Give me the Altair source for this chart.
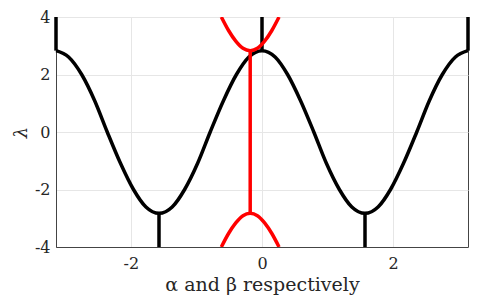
import altair as alt
import pandas as pd

# black curve (alpha, lambda)
alpha = [-3.14, -2.95, -2.75, -2.55, -2.36, -2.16, -1.96, -1.77, -1.57, -1.37, -1.18,
         -0.98, -0.79, -0.59, -0.39, -0.20, 0.00, 0.20, 0.39, 0.59, 0.79, 0.98, 1.18,
         1.37, 1.57, 1.77, 1.96, 2.16, 2.36, 2.55, 2.75, 2.95, 3.14]
lam_black = [2.83, 2.61, 2.00, 1.08, 0.00, -1.08, -2.00, -2.61, -2.83, -2.61, -2.00,
             -1.08, 0.00, 1.08, 2.00, 2.61, 2.83, 2.61, 2.00, 1.08, 0.00, -1.08, -2.00,
             -2.61, -2.83, -2.61, -2.00, -1.08, 0.00, 1.08, 2.00, 2.61, 2.83]

# black vertical stubs
stub_x = [-3.1416, -1.5708, 0.0, 1.5708, 3.1416]
stub_y1 = [2.83, -2.83, 2.83, -2.83, 2.83]
stub_y2 = [4.0, -4.0, 4.0, -4.0, 4.0]

# red curves (beta, lambda)
beta_red = [-0.62, -0.51, -0.40, -0.29, -0.18, -0.07, 0.04, 0.15, 0.26]
lam_red_top = [4.00, 3.53, 3.16, 2.91, 2.83, 2.91, 3.16, 3.53, 4.00]
lam_red_bot = [-4.00, -3.53, -3.16, -2.91, -2.83, -2.91, -3.16, -3.53, -4.00]
red_vert_x = [-0.18]
red_vert_y1 = [-2.83]
red_vert_y2 = [2.83]

x_ticks = [-2, 0, 2]
y_ticks = [-4, -2, 0, 2, 4]

FONT = "DejaVu Serif"
TXT = "#262626"

black_df = pd.DataFrame({"x": alpha, "y": lam_black})
stub_df = pd.DataFrame({"x": stub_x, "y": stub_y1, "y2": stub_y2})
red_df = pd.concat([
    pd.DataFrame({"x": beta_red, "y": lam_red_top, "seg": "top"}),
    pd.DataFrame({"x": beta_red, "y": lam_red_bot, "seg": "bot"}),
])
redv_df = pd.DataFrame({"x": red_vert_x, "y": red_vert_y1, "y2": red_vert_y2})

xscale = alt.Scale(domain=[-3.1416, 3.1416], nice=False, zero=False)
yscale = alt.Scale(domain=[-4, 4], nice=False, zero=False)

common = dict(labelFont=FONT, titleFont=FONT, labelFontSize=16,
              labelColor=TXT, titleColor=TXT, titleFontWeight="normal",
              domainColor="#444444", gridColor="#e6e6e6", gridWidth=1, ticks=False,
              format="d", labelExpr="replace(datum.label, '−', '-')", grid=True)

xaxis = alt.Axis(values=x_ticks, title="α and β respectively", titleFontSize=19,
                 labelPadding=8, titlePadding=4, **common)
yaxis = alt.Axis(values=y_ticks, title="λ", titleFontSize=18,
                 labelPadding=6, titlePadding=4, titleFontStyle="italic", **common)

black = alt.Chart(black_df).mark_line(color="black", strokeWidth=3.5, interpolate="monotone").encode(
    x=alt.X("x:Q", scale=xscale, axis=xaxis),
    y=alt.Y("y:Q", scale=yscale, axis=yaxis),
)
stubs = alt.Chart(stub_df).mark_rule(color="black", strokeWidth=3.5).encode(
    x="x:Q", y="y:Q", y2="y2:Q"
)
red = alt.Chart(red_df).mark_line(color="#ff0000", strokeWidth=3.5, interpolate="monotone", clip=True).encode(
    x="x:Q", y="y:Q", detail="seg:N"
)
redv = alt.Chart(redv_df).mark_rule(color="#ff0000", strokeWidth=3.5).encode(
    x="x:Q", y="y:Q", y2="y2:Q"
)

chart = alt.layer(black, stubs, redv, red).properties(
    width=412, height=230,
    padding={"left": 48, "top": 9, "right": 2, "bottom": 53},
    autosize="none",
).configure_view(
    stroke="#444444", strokeWidth=1
)

chart.save("out.html", embed_options={"renderer": "svg", "actions": False})
